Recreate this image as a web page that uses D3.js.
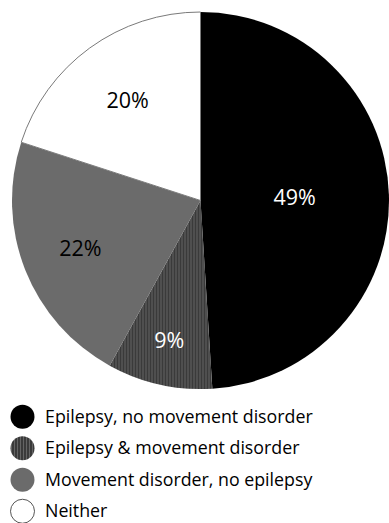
<!DOCTYPE html>
<html>
<head>
<meta charset="utf-8">
<script src="https://cdn.jsdelivr.net/npm/d3@7"></script>
<style>
	body { margin: 0; background: #fff; }
	svg { display: block; font-family: "Open Sans", sans-serif; }
</style>
</head>
<body>
<svg class="chart"></svg>
<script>

// Data
var categories = ["Epilepsy, no movement disorder", "Epilepsy & movement disorder", "Movement disorder, no epilepsy", "Neither"];
var shares = [49, 9, 22, 20];
var pctLabels = ["49%", "9%", "22%", "20%"];

// Layout
var svgWidth = 389,
	svgHeight = 523;

var cx = 200.5,
	cy = 200.5,
	radius = 188.5;

// where Excel put the data labels, as a fraction of the radius
var labelRadius = [0.5, 0.76, 0.685, 0.657];

var fills = ["#000", "url(#stripes)", "#6b6b6b", "#fff"];
var labelColors = ["#fff", "#fff", "#000", "#000"];

var chart = d3.select( ".chart" )
	.attr( "width", svgWidth )
	.attr( "height", svgHeight );

// vertical stripes for the hatched slice
var pattern = chart.append( "defs" ).append( "pattern" )
	.attr( "id", "stripes" )
	.attr( "patternUnits", "userSpaceOnUse" )
	.attr( "width", 3 )
	.attr( "height", 10 );
pattern.append( "rect" ).attr( "width", 3 ).attr( "height", 10 ).attr( "fill", "#3a3a3a" );
pattern.append( "rect" ).attr( "x", 2 ).attr( "width", 1 ).attr( "height", 10 ).attr( "fill", "#646464" );

var data = categories.map( function(c, i) {
	return { name : c, value : shares[i], label : pctLabels[i], i : i };
} );

var pie = d3.pie()
	.sort( null )
	.value( function(d) { return d.value; } );

var arc = d3.arc()
	.innerRadius( 0 )
	.outerRadius( radius );

var g = chart.append( "g" )
	.attr( "transform", "translate(" + cx + "," + cy + ")" );

var arcs = pie( data );

g.selectAll( ".slice" )
	.data( arcs )
	.enter()
	.append( "path" )
	.classed( "slice", true )
	.attr( "d", arc )
	.attr( "fill", function(d) { return fills[d.data.i]; } )
	.attr( "stroke", function(d) { return d.data.i === 3 ? "#7a7a7a" : "none"; } )
	.attr( "stroke-width", 1 );

g.selectAll( ".pct" )
	.data( arcs )
	.enter()
	.append( "text" )
	.classed( "pct", true )
	.attr( "transform", function(d) {
		var a = ( d.startAngle + d.endAngle ) / 2,
			r = radius * labelRadius[d.data.i];
		return "translate(" + ( r * Math.sin(a) ) + "," + ( -r * Math.cos(a) ) + ")";
	} )
	.attr( "text-anchor", "middle" )
	.attr( "dy", "0.36em" )
	.attr( "font-size", 21.5 )
	.attr( "fill", function(d) { return labelColors[d.data.i]; } )
	.text( function(d) { return d.data.label; } );

// Legend
var legendY = d3.scaleBand()
	.domain( categories )
	.range( [401, 527] );

var legend = chart.selectAll( ".legend" )
	.data( data )
	.enter()
	.append( "g" )
	.classed( "legend", true )
	.attr( "transform", function(d) {
		return "translate(0," + ( legendY( d.name ) + legendY.bandwidth() / 2 ) + ")";
	} );

legend.append( "circle" )
	.attr( "cx", 22.5 )
	.attr( "r", 12 )
	.attr( "fill", function(d) { return fills[d.i]; } )
	.attr( "stroke", function(d) { return d.i === 3 ? "#555" : "none"; } );

legend.append( "text" )
	.attr( "x", 45 )
	.attr( "dy", "0.35em" )
	.attr( "font-size", 17.8 )
	.attr( "fill", "#000" )
	.text( function(d) { return d.name; } );

</script>
</body>
</html>
